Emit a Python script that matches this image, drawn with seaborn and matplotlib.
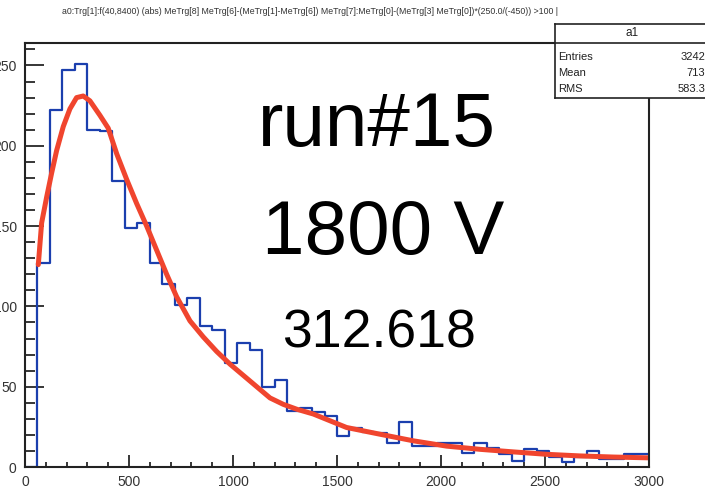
import numpy as np
import pandas as pd
import matplotlib.pyplot as plt
import seaborn as sns

sns.set_theme(style="white")
plt.rcParams['font.family'] = ['Liberation Sans', 'DejaVu Sans']

# histogram bins (width 60 from 0 to 3000) and counts
bin_edges = list(range(0, 3001, 60))
counts = [0, 127, 222, 247, 251, 210, 209, 178, 149, 152,
          127, 114, 101, 105, 88, 85, 65, 77, 73, 50,
          54, 35, 37, 34, 32, 19, 24, 22, 21, 15,
          28, 13, 13, 15, 15, 9, 15, 12, 8, 4,
          11, 10, 6, 3, 6, 10, 5, 5, 8, 8]

# fitted curve points
fit_x = [64, 80, 104, 128, 152, 184, 216, 248, 280, 312, 360, 400, 441, 489, 537,
         585, 633, 681, 729, 793, 857, 921, 986, 1050, 1114, 1178, 1242, 1306,
         1386, 1546, 1707, 1867, 2027, 2188, 2348, 2508, 2668, 2828, 3000]
fit_y = [126, 152, 168, 183, 197, 212, 223, 230, 231, 228, 219, 211, 195, 179, 164,
         150, 135, 120, 106, 91, 81, 72, 64, 57, 50, 43, 39, 36,
         33, 24.6, 20.4, 16.3, 13, 11, 9.4, 7.9, 6.9, 6.2, 5.7]

title = ("a0:Trg[1]:f(40,8400) (abs) MeTrg[8] MeTrg[6]-(MeTrg[1]-MeTrg[6]) "
         "MeTrg[7]:MeTrg[0]-(MeTrg[3] MeTrg[0])*(250.0/(-450)) >100 |")
stat_names = ['Entries', 'Mean', 'RMS']
stat_values = ['3242', '713', '583.3']

centers = [(a + b) / 2 for a, b in zip(bin_edges[:-1], bin_edges[1:])]
df = pd.DataFrame({'x': centers, 'n': counts})

W, H = 705, 490
fig = plt.figure(figsize=(W / 100, H / 100), dpi=100)
ax = fig.add_axes([25 / W, (H - 467) / H, (649 - 25) / W, (467 - 43) / H])

sns.histplot(data=df, x='x', weights='n', bins=bin_edges, element='step',
             fill=False, color='#1b3fae', linewidth=1.6, ax=ax)
sns.lineplot(x=fit_x, y=fit_y, color='#f0452e', linewidth=3.6, ax=ax)

ax.set_xlim(0, 3000)
ax.set_ylim(0, 264)
ax.set_xlabel('')
ax.set_ylabel('')
ax.set_xticks(range(0, 3001, 500))
ax.set_xticks(range(0, 3001, 100), minor=True)
ax.set_yticks(range(0, 251, 50))
ax.set_yticks(range(0, 261, 10), minor=True)
ax.tick_params(axis='both', which='both', direction='in', colors='black',
               labelcolor='#333333', labelsize=10, width=1.1,
               bottom=True, left=True, top=False, right=False)
ax.tick_params(axis='y', which='major', length=14, pad=6)
ax.tick_params(axis='y', which='minor', length=7.5)
ax.tick_params(axis='x', which='major', length=8.5, pad=6)
ax.tick_params(axis='x', which='minor', length=3.8)
for sp in ax.spines.values():
    sp.set_color('#222222')
    sp.set_linewidth(1.5)

# big annotations
ax.text(258 / W, 1 - 146 / H, 'run#15', transform=fig.transFigure,
        fontsize=55, ha='left', va='baseline', color='black')
ax.text(262 / W, 1 - 254 / H, '1800 V', transform=fig.transFigure,
        fontsize=55, ha='left', va='baseline', color='black')
ax.text(282 / W, 1 - 348 / H, '312.618', transform=fig.transFigure,
        fontsize=38.5, ha='left', va='baseline', color='black')

fig.text(310 / W, 1 - 11 / H, title, fontsize=6.3, ha='center', va='center',
         color='#333333')

# stats box
sx0, sx1, sy0, sy1 = 555, 710, 24, 98
sax = fig.add_axes([sx0 / W, (H - sy1) / H, (sx1 - sx0) / W, (sy1 - sy0) / H])
sax.set_xticks([])
sax.set_yticks([])
sax.set_xlim(sx0, sx1)
sax.set_ylim(sy1, sy0)
sax.set_facecolor('white')
for sp in sax.spines.values():
    sp.set_color('#222222')
    sp.set_linewidth(1.2)
sax.axhline(43, color='#222222', linewidth=1.2)
sax.text(632, 33.5, 'a1', fontsize=8.5, ha='center', va='center', color='#222222')
for i, (nm, val) in enumerate(zip(stat_names, stat_values)):
    yy = 57 + i * 16
    sax.text(558, yy, nm, fontsize=8, ha='left', va='center', color='#222222')
    sax.text(705, yy, val, fontsize=8, ha='right', va='center', color='#222222')

fig.savefig('out.png', dpi=100)
